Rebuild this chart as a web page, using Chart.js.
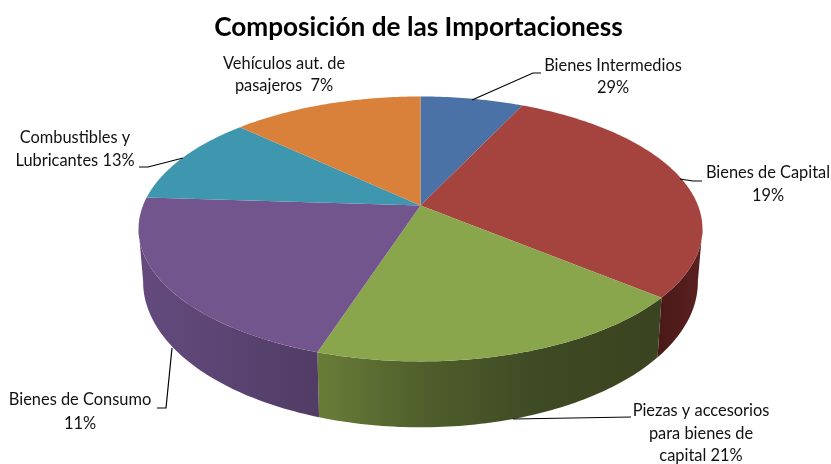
<!DOCTYPE html>
<html>
<head>
<meta charset="utf-8">
<style>
body { margin: 0; background: #fff; }
#pie_chart { display: block; }
</style>
<script src="https://cdn.jsdelivr.net/npm/chart.js@4/dist/chart.umd.min.js"></script>
</head>
<body>
<canvas id="pie_chart" width="831" height="464"></canvas>
<script>
// slices clockwise from 12 o'clock
var slice_names = ["Azul", "Rojo", "Verde", "Morado", "Turquesa", "Naranja"];
var slice_values = [7, 29, 19, 21, 11, 13];
var slice_colors = ["#4A72A6", "#A5443F", "#8AA64D", "#72558D", "#3F96AF", "#D9813A"];

// the picture prints these next to the slices, one text per label
var label_lines = [
    ["Bienes Intermedios", "29%"],
    ["Bienes de Capital", "19%"],
    ["Piezas y accesorios", "para bienes de", "capital 21%"],
    ["Bienes de Consumo", "11%"],
    ["Combustibles y", "Lubricantes 13%"],
    ["Vehículos aut. de", "pasajeros  7%"]
];
var label_x = [613, 768, 701, 80, 75, 284];
var label_y = [66, 173, 411, 400, 138, 64];
var label_step = [22, 23, 22.5, 24, 23, 22];
var leaders = [
    [[472, 100], [533, 73], [541, 73]],
    [[680, 179], [693, 181], [702, 181]],
    [[513, 419], [631, 417]],
    [[172, 348], [166, 408], [157, 408]],
    [[183, 158], [148, 167], [139, 167]],
    []
];

// perspective of the disc: top face and bottom face
var top_face = {cx: 420.5, cy: 205.5, rx: 277.5, ry: 128.3, p: 0.177};
var low_face = {cx: 420.5, cy: 256, rx: 273, ry: 141, p: 0.177};
var wall_from = 100 * Math.PI / 180;
var wall_to = 260 * Math.PI / 180;

function project(face, a) {
    // a is measured clockwise from the top of the disc
    var w = 1 + face.p * Math.cos(a);
    return [face.cx + face.rx * Math.sin(a) / w, face.cy - face.ry * Math.cos(a) / w];
}

function trace(ctx, face, a0, a1, first) {
    var n = Math.max(2, Math.ceil(Math.abs(a1 - a0) * 60));
    for (var i = 0; i <= n; i++) {
        var pt = project(face, a0 + (a1 - a0) * i / n);
        if (first && i == 0) ctx.moveTo(pt[0], pt[1]);
        else ctx.lineTo(pt[0], pt[1]);
    }
}

function wallFill(ctx, i) {
    var g;
    if (i == 1) {
        g = ctx.createLinearGradient(657, 0, 700, 0);
        g.addColorStop(0, "#4A1818");
        g.addColorStop(1, "#5A2020");
    } else if (i == 2) {
        g = ctx.createLinearGradient(318, 0, 660, 0);
        g.addColorStop(0, "#697D38");
        g.addColorStop(0.3, "#505F2C");
        g.addColorStop(0.65, "#3E4A24");
        g.addColorStop(1, "#3A4420");
    } else {
        g = ctx.createLinearGradient(140, 0, 318, 0);
        g.addColorStop(0, "#644A7E");
        g.addColorStop(0.5, "#5A4472");
        g.addColorStop(1, "#503C64");
    }
    return g;
}

var disc3d = {
    id: "disc3d",
    beforeDatasetDraw: function(chart, args) {
        var ctx = chart.ctx;
        var arcs = chart.getDatasetMeta(args.index).data;
        // arc angles come from the chart, 0 there is 3 o'clock
        arcs.forEach(function(arc, i) {
            var a0 = arc.startAngle + Math.PI / 2;
            var a1 = arc.endAngle + Math.PI / 2;
            var w0 = Math.max(a0, wall_from);
            var w1 = Math.min(a1, wall_to);
            if (w1 > w0) {
                ctx.beginPath();
                trace(ctx, top_face, w0, w1, true);
                trace(ctx, low_face, w1, w0, false);
                ctx.closePath();
                ctx.fillStyle = wallFill(ctx, i);
                ctx.fill();
            }
        });
        arcs.forEach(function(arc, i) {
            var a0 = arc.startAngle + Math.PI / 2;
            var a1 = arc.endAngle + Math.PI / 2;
            ctx.beginPath();
            ctx.moveTo(top_face.cx, top_face.cy);
            trace(ctx, top_face, a0, a1, false);
            ctx.closePath();
            ctx.fillStyle = slice_colors[i];
            ctx.fill();
        });
        return false;
    },
    afterDraw: function(chart) {
        var ctx = chart.ctx;
        ctx.save();
        ctx.strokeStyle = "#000";
        ctx.lineWidth = 1.2;
        leaders.forEach(function(line) {
            if (!line.length) return;
            ctx.beginPath();
            line.forEach(function(p, j) {
                if (j == 0) ctx.moveTo(p[0], p[1]);
                else ctx.lineTo(p[0], p[1]);
            });
            ctx.stroke();
        });
        ctx.fillStyle = "#111";
        ctx.font = "16.4px Lato";
        ctx.textAlign = "center";
        ctx.textBaseline = "middle";
        label_lines.forEach(function(lines, i) {
            lines.forEach(function(txt, j) {
                ctx.fillText(txt, label_x[i], label_y[i] + j * label_step[i]);
            });
        });
        ctx.restore();
    }
};

var ctx = document.getElementById("pie_chart");
var myChart = new Chart(ctx, {
    type: "pie",
    data: {
        labels: slice_names,
        datasets: [{
            data: slice_values,
            backgroundColor: slice_colors,
            borderWidth: 0
        }]
    },
    options: {
        responsive: false,
        animation: false,
        layout: {
            padding: {left: 6}
        },
        plugins: {
            legend: {
                display: false
            },
            tooltip: {
                enabled: false
            },
            title: {
                display: true,
                text: "Composición de las Importacioness",
                color: "#000",
                font: {family: "Lato", size: 26.2, weight: "bold"},
                padding: {top: 12, bottom: 10}
            }
        }
    },
    plugins: [disc3d]
});
</script>
</body>
</html>
